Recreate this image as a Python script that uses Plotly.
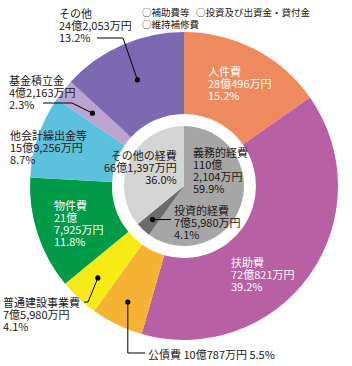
import math
import plotly.graph_objects as go

W, H = 352, 366

# ---- data ----
outer_labels = ["人件費", "扶助費", "公債費", "普通建設事業費", "物件費", "他会計繰出金等", "基金積立金", "その他"]
outer_values = [280496, 720821, 100787, 75980, 217925, 159256, 42163, 242053]  # 万円
outer_amount = ["28億496万円", "72億821万円", "10億787万円", "7億5,980万円", "21億7,925万円", "15億9,256万円", "4億2,163万円", "24億2,053万円"]
outer_pct = ["15.2%", "39.2%", "5.5%", "4.1%", "11.8%", "8.7%", "2.3%", "13.2%"]
outer_colors = ["#EF8A5E", "#B760A4", "#F5B233", "#F6EB14", "#009A48", "#5BC1DC", "#BBA4CF", "#7B6AB1"]

inner_labels = ["義務的経費", "投資的経費", "その他の経費"]
inner_values = [1102104, 75980, 661397]
inner_pct = ["59.9%", "4.1%", "36.0%"]
inner_colors = ["#A6A6A6", "#6B6B6B", "#D4D4D4"]

legend_items = ["○補助費等", "○投資及び出資金・貸付金", "○維持補修費"]

# ---- geometry (pixels) ----
CX, CY = 184, 186
R_OUT, R_HOLE, R_IN = 154, 72, 60


def px(x):
    return x / W


def py(y):
    return 1 - y / H


fig = go.Figure()
fig.add_trace(go.Pie(
    labels=outer_labels, values=outer_values, sort=False, direction="clockwise", rotation=0,
    hole=R_HOLE / R_OUT, marker=dict(colors=outer_colors, line=dict(width=0)),
    textinfo="none", hoverinfo="label+percent", showlegend=False,
    domain=dict(x=[px(CX - R_OUT), px(CX + R_OUT)], y=[py(CY + R_OUT), py(CY - R_OUT)]),
))
fig.add_trace(go.Pie(
    labels=inner_labels, values=inner_values, sort=False, direction="clockwise", rotation=0,
    marker=dict(colors=inner_colors, line=dict(width=0)),
    textinfo="none", hoverinfo="label+percent", showlegend=False,
    domain=dict(x=[px(CX - R_IN), px(CX + R_IN)], y=[py(CY + R_IN), py(CY - R_IN)]),
))


def mid_point(values, idx, r):
    tot = sum(values)
    start = sum(values[:idx]) / tot
    frac = (start + values[idx] / tot / 2) * 2 * math.pi
    return CX + r * math.sin(frac), CY - r * math.cos(frac)


FONT = "Noto Sans CJK JP"
DARK = "#231815"
LH = 12
annotations = []
shapes = []


def text_block(lines, x, y, color=DARK, size=11, anchor="left"):
    # one annotation per block; line pitch = 1.3em of the base size -> LH px
    body = "<br>".join(f"<span style='font-size:{size}px'>{t}</span>" for t in lines)
    yc = y + (len(lines) - 1) * LH / 2
    annotations.append(dict(
        x=px(x), y=py(yc), xref="paper", yref="paper", text=body, showarrow=False,
        xanchor=anchor, yanchor="middle", align=anchor, borderpad=0,
        font=dict(family=FONT, size=LH / 1.3, color=color),
    ))


def dot(x, y, r=2.6):
    shapes.append(dict(type="circle", xref="paper", yref="paper", x0=px(x - r), x1=px(x + r),
                       y0=py(y + r), y1=py(y - r), fillcolor="black", line=dict(width=0)))


def poly(points):
    d = "M " + " L ".join(f"{px(a)},{py(b)}" for a, b in points)
    shapes.append(dict(type="path", xref="paper", yref="paper", path=d, line=dict(color="black", width=1)))


# outer labels
text_block([outer_labels[0], outer_amount[0], outer_pct[0]], 207, 71, color="white")
text_block([outer_labels[1], outer_amount[1], outer_pct[1]], 230, 262, color="white")
text_block([outer_labels[4], "21億", "7,925万円", outer_pct[4]], 53, 205, color="white")
text_block([outer_labels[5], outer_amount[5], outer_pct[5]], 9, 135)
text_block([outer_labels[6], outer_amount[6], outer_pct[6]], 8, 80)
text_block([outer_labels[7], outer_amount[7], outer_pct[7]], 58, 13)
text_block([outer_labels[3], outer_amount[3], outer_pct[3]], 2, 302)
text_block([f"{outer_labels[2]} {outer_amount[2]} {outer_pct[2]}"], 147, 354)

# leader lines (outer)
x, y = mid_point(outer_values, 7, 116)
poly([(97, 38), (123, 38), (x, y)]); dot(x, y)
x, y = mid_point(outer_values, 6, 117)
poly([(43, 103), (72, 103), (x, y)]); dot(x, y)
x, y = mid_point(outer_values, 3, 126)
poly([(84, 302), (88, 302), (x, y)]); dot(x, y)
x, y = mid_point(outer_values, 2, 129)
poly([(x, y), (x, 353), (145, 353)]); dot(x, y)

# inner labels
text_block([inner_labels[2], "66億1,397万円", inner_pct[2]], 178, 155, anchor="right")
text_block([inner_labels[0], "110億", "2,104万円", inner_pct[0]], 192, 152)
text_block([inner_labels[1], "7億5,980万円", inner_pct[1]], 173, 210)
x, y = mid_point(inner_values, 1, 46)
poly([(x, y), (171, y)]); dot(x, y)

# top legend
text_block([legend_items[0]], 141, 12, size=9.5)
text_block([legend_items[1]], 195, 12, size=9.5)
text_block([legend_items[2]], 141, 24, size=9.5)

fig.update_layout(
    width=W, height=H, margin=dict(l=0, r=0, t=0, b=0),
    paper_bgcolor="white", plot_bgcolor="white",
    annotations=annotations, shapes=shapes, showlegend=False,
)
fig.write_html("out.html")
